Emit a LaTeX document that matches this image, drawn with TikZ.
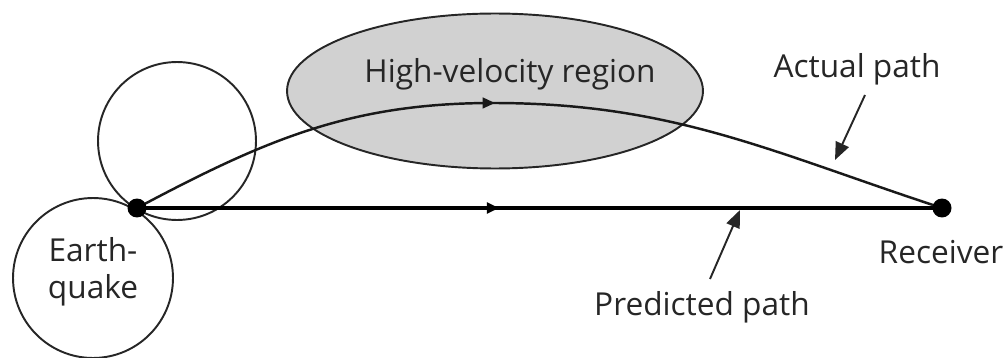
\documentclass[tikz,border=0pt]{standalone}
\usepackage{fontspec}
\setmainfont{Open Sans}
\usetikzlibrary{arrows.meta,decorations.markings,shapes.geometric}
\begin{document}
\begin{tikzpicture}[x=0.02cm,y=-0.02cm,
  lbl/.style={font=\fontsize{18}{21}\selectfont, text=black!85, inner sep=0pt},
  ring/.style={circle, draw=black!85, line width=1.1pt, inner sep=0pt},
  dotnode/.style={circle, fill=black, inner sep=0pt, minimum size=0.38cm},
  ray/.style={draw=black!90, line width=1.4pt},
  midarrow/.style={postaction={decorate}, decoration={markings, mark=at position #1 with {\arrow{Triangle[length=7pt,width=6pt]}}}},
  pointer/.style={draw=black!85, line width=1.1pt, -{Triangle[length=10pt,width=8pt]}}
]
\useasboundingbox (0,0) rectangle (1007,358);
% high-velocity region
\node[ellipse, draw=black!85, line width=1.1pt, fill=black!18,
      minimum width=8.32cm, minimum height=3.1cm, inner sep=0pt] (hv) at (495,91) {};
\node[lbl] (hvl) at (510,74) {High-velocity region};
% wavefront circles
\node[ring, minimum size=3.16cm] (c1) at (177,141) {};
\node[ring, minimum size=3.2cm] (c2) at (93,278) {};
\node[lbl, align=center] (eq) at (93,272) {Earth-\\quake};
% source and receiver
\coordinate (src) at (137,208);
\coordinate (rcv) at (942,208);
% predicted path
\path[draw=black, line width=2pt, midarrow=0.45] (src) -- (rcv);
% actual path
\coordinate (peak) at (493,103);
\path[ray, midarrow=0.45] (src) .. controls (265,140) and (350,103) .. (peak)
   .. controls (673,103) and (771,152) .. (rcv);
\node[dotnode] (q) at (src) {};
\node[dotnode] (r) at (rcv) {};
\node[lbl] (rl) at (941,252) {Receiver};
% labels with pointers
\node[lbl] (al) at (857,69) {Actual path};
\coordinate (at0) at (865,95);
\coordinate (at1) at (835,160);
\draw[pointer] (at0) -- (at1);
\node[lbl] (pl) at (702,307) {Predicted path};
\coordinate (pt0) at (710,279);
\coordinate (pt1) at (740,210);
\draw[pointer] (pt0) -- (pt1);
\end{tikzpicture}
\end{document}
